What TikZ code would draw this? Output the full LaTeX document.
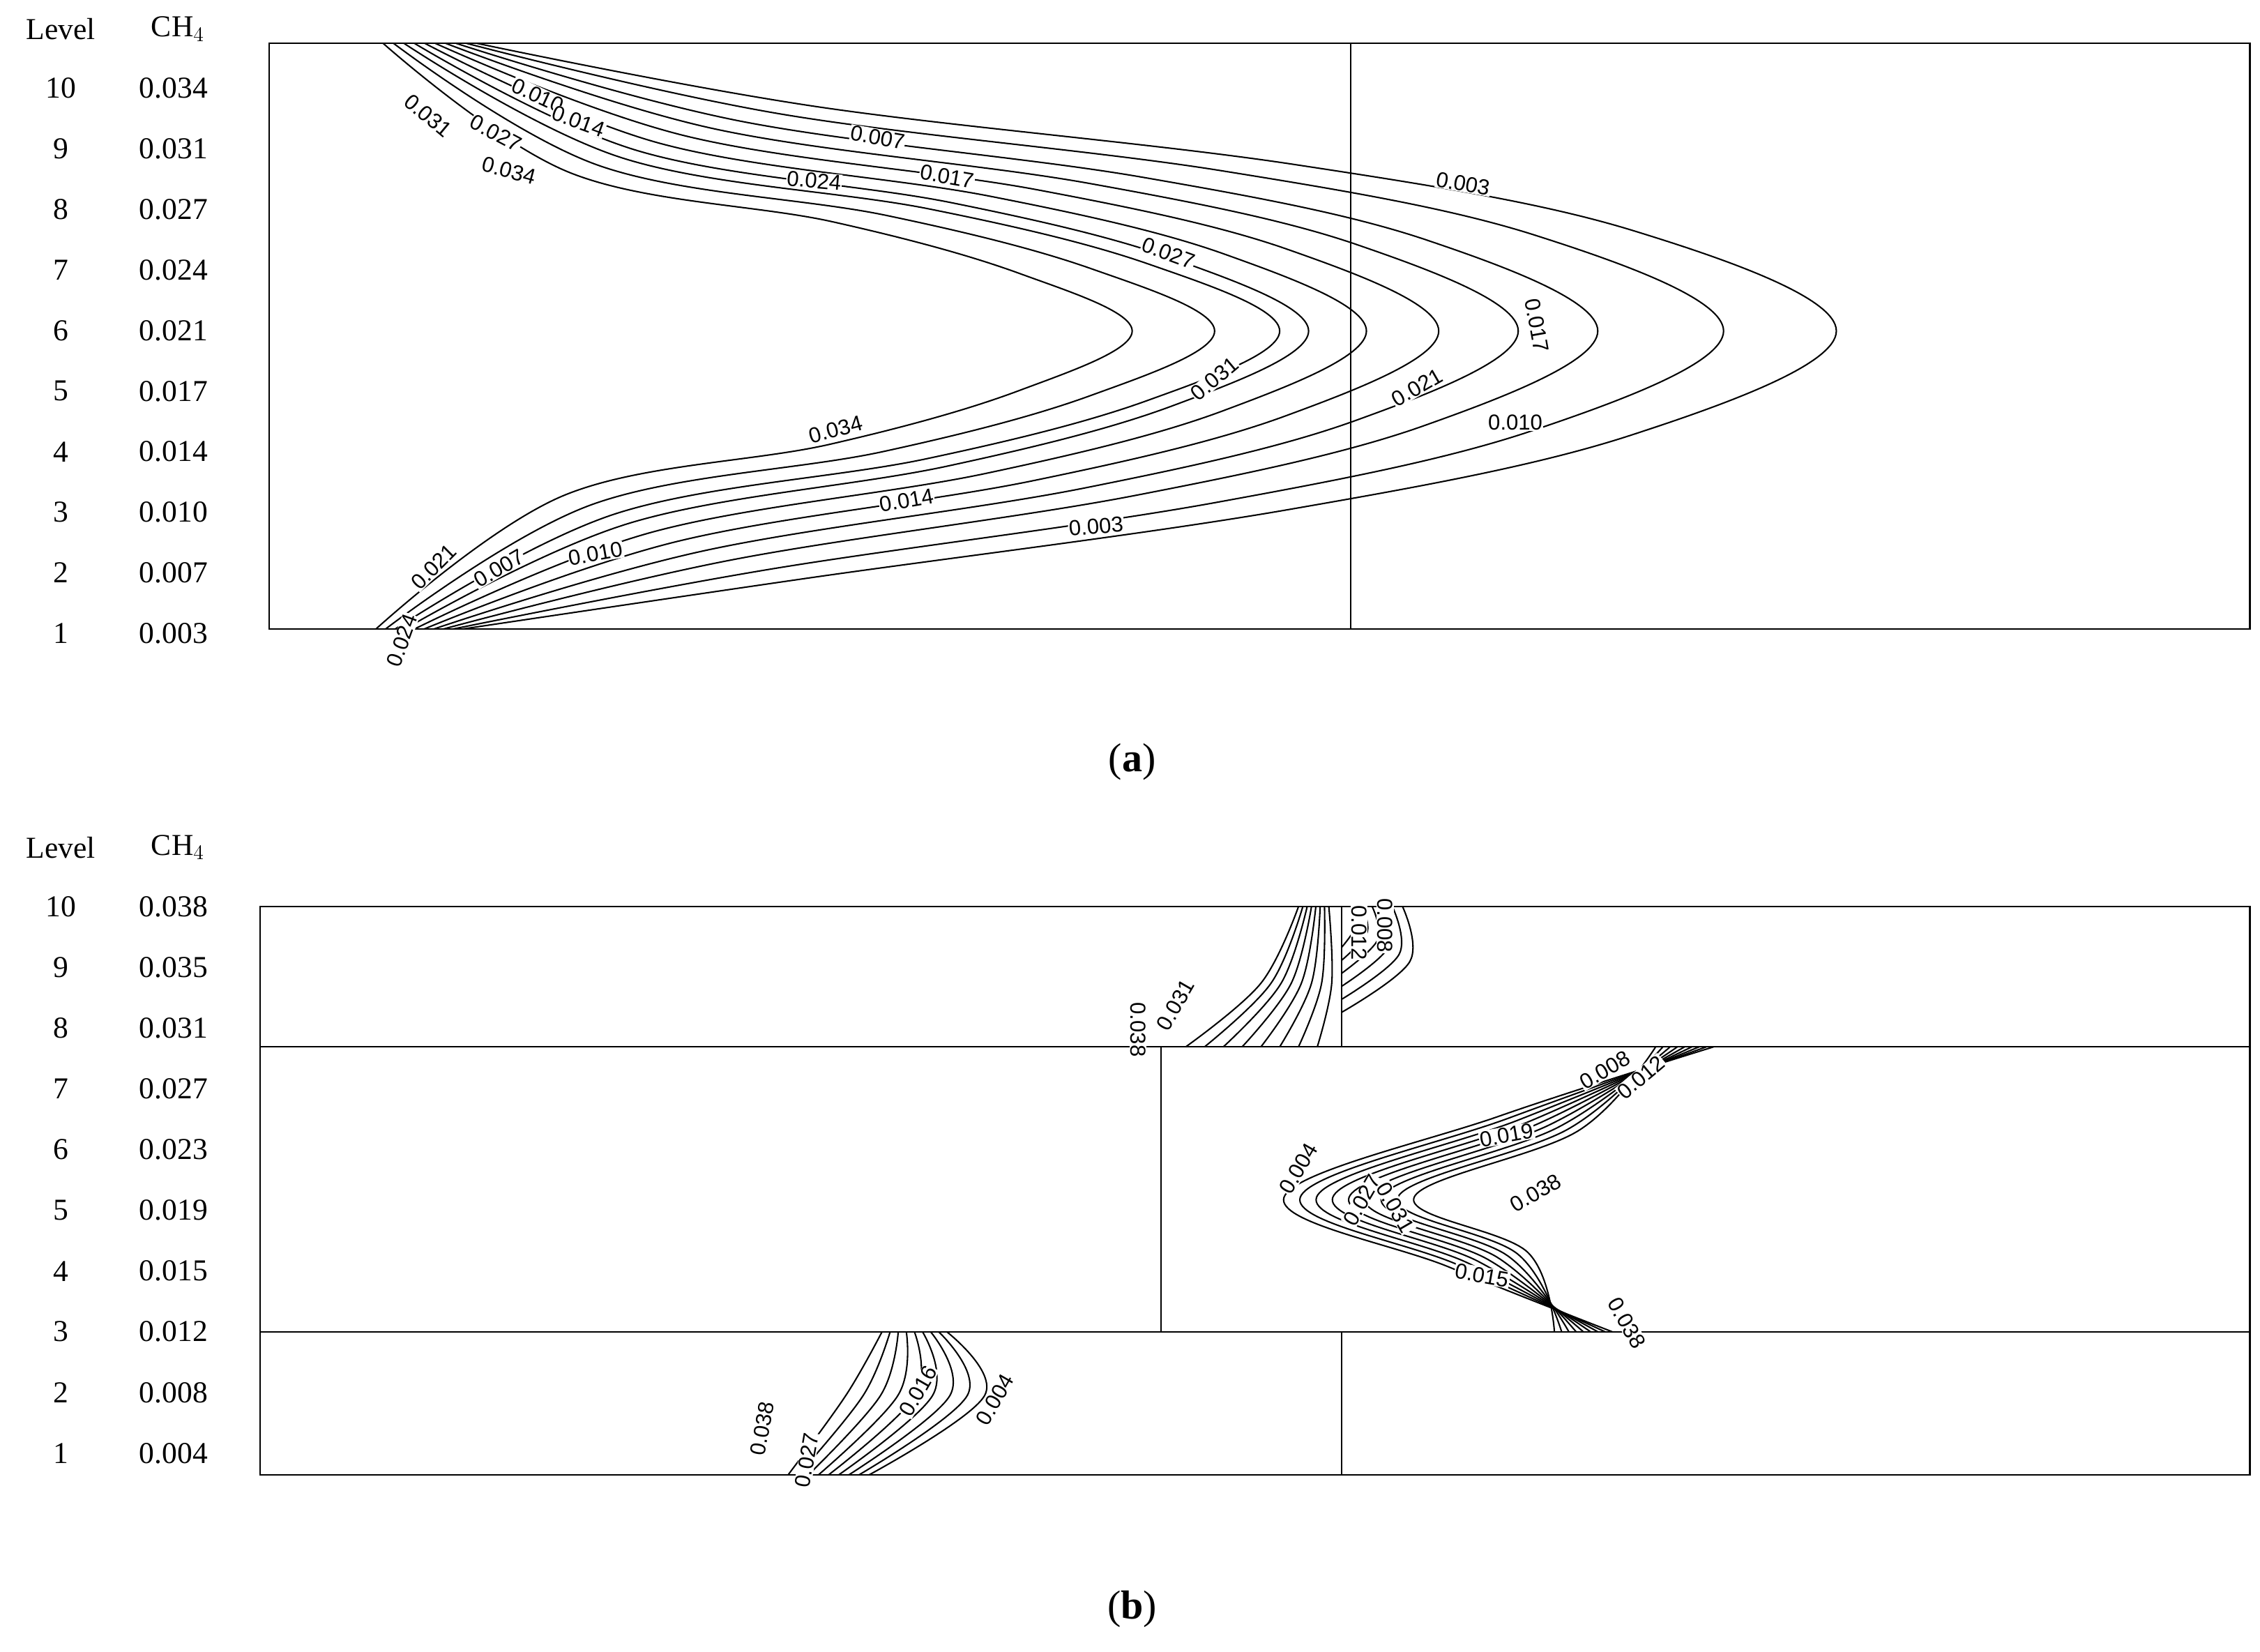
\documentclass[tikz,border=0pt]{standalone}
\usepackage{fontspec}
\setmainfont{Liberation Serif}
\newfontfamily\lblfont{Liberation Sans}
\begin{document}
\begin{tikzpicture}[x=1pt,y=-1pt,
  frame/.style={line width=1.1pt},
  cont/.style={line width=1pt},
  leg/.style={font=\fontsize{21}{21}\selectfont,anchor=center},
  clab/.style={font=\lblfont\fontsize{15}{15}\selectfont,fill=white,inner sep=0.5pt},
  captxt/.style={font=\fontsize{28}{28}\selectfont}]
\useasboundingbox (0,0) rectangle (1563,1142);
% ---------- panel (a)
\node[leg] (la) at (42,20) {Level};
\node[leg] (ca) at (123,20) {CH$_4$};
\foreach \l/\v [count=\i from 0] in {10/0.034,9/0.031,8/0.027,7/0.024,6/0.021,5/0.017,4/0.014,3/0.010,2/0.007,1/0.003}{
  \node[leg] (al\i) at (42,{61+41.9*\i}) {\l};
  \node[leg] (av\i) at (120,{61+41.9*\i}) {\v};
}
\begin{scope}
\clip (186,30) rectangle (1556,435);
\foreach \A [count=\j from 0] in {1270,1192,1105,1050,995,945,905,885,840,783}{
  \pgfmathsetmacro\t{\j/9}
  \pgfmathsetmacro\xt{330-65*\t}
  \pgfmathsetmacro\xb{320-60*\t}
  \draw[cont] plot[smooth,tension=0.6] coordinates {
    (\xb,435)
    ({\xb+0.25*(\A-\xb)},{435-206*(0.17+0.28*\t)})
    ({\xb+0.6*(\A-\xb)},{435-206*(0.40+0.22*\t)})
    ({\xb+0.85*(\A-\xb)},{435-206*(0.65+0.15*\t)})
    (\A,229)
    ({\xt+0.85*(\A-\xt)},{30+199*(0.65+0.15*\t)})
    ({\xt+0.6*(\A-\xt)},{30+199*(0.42+0.20*\t)})
    ({\xt+0.25*(\A-\xt)},{30+199*(0.22+0.23*\t)})
    (\xt,30)};
}
\end{scope}
\draw[frame] (186,30) rectangle (1556,435);
\draw[frame] (934,30) -- (934,435);
\foreach \x/\y/\r/\s in {372/66/-25/0.010, 296/80/-40/0.031, 343/92/-28/0.027, 400/84/-20/0.014,
  352/118/-15/0.034, 607/95/-10/0.007, 563/125/-5/0.024, 655/122/-10/0.017, 1012/127/-10/0.003,
  808/175/-20/0.027, 1063/225/-80/0.017, 840/262/40/0.031, 578/297/15/0.034, 980/268/30/0.021,
  1048/292/0/0.010, 627/346/10/0.014, 758/364/5/0.003, 300/392/45/0.021, 345/393/30/0.007,
  412/383/10/0.010, 278/443/70/0.024}
  \node[clab,rotate=\r] at (\x,\y) {\s};
\node[captxt] (capa) at (783,527) {(\textbf{a})};
% ---------- panel (b)
\node[leg] (lb) at (42,586) {Level};
\node[leg] (cb) at (123,586) {CH$_4$};
\foreach \l/\v [count=\i from 0] in {10/0.038,9/0.035,8/0.031,7/0.027,6/0.023,5/0.019,4/0.015,3/0.012,2/0.008,1/0.004}{
  \node[leg] (bl\i) at (42,{627+42*\i}) {\l};
  \node[leg] (bv\i) at (120,{627+42*\i}) {\v};
}
\foreach \j in {0,...,8}{
  \pgfmathsetmacro\t{\j/8}
  \pgfmathsetmacro\xt{1185-40*\t}
  \pgfmathsetmacro\ax{888+90*\t}
  \pgfmathsetmacro\xb{1115-40*\t}
  \draw[cont] plot[smooth,tension=0.6] coordinates {
    (\xt,724) ({0.5*(\xt+\ax)+30*\t},{772+10*\t}) (\ax,828) ({0.5*(\ax+\xb)+30*\t},{876-10*\t}) (\xb,921)};
}
\foreach \j in {0,...,7}{
  \draw[cont] plot[smooth,tension=0.6] coordinates {
    ({898+3*\j},627) ({872+7*\j},680) ({820+13*\j},724)};
}
\foreach \j in {0,...,5}{
  \draw[cont] plot[smooth,tension=0.6] coordinates {
    ({935+7*\j},627) ({938+7.4*\j},{640+5*\j}) (928,{655+9*\j})};
}
\foreach \j in {0,...,8}{
  \draw[cont] plot[smooth,tension=0.6] coordinates {
    ({610+5.6*\j},921) ({585+12*\j},965) ({545+7*\j},1020)};
}
\draw[frame] (180,627) rectangle (1556,1020);
\draw[frame] (180,724) -- (1556,724);
\draw[frame] (180,921) -- (1556,921);
\draw[frame] (928,627) -- (928,724);
\draw[frame] (803,724) -- (803,921);
\draw[frame] (928,921) -- (928,1020);
\foreach \x/\y/\r/\s in {958/640/-90/0.008, 940/645/-90/0.012, 787/712/-90/0.038, 813/695/60/0.031,
  898/808/60/0.004, 942/830/60/0.027, 965/835/-60/0.031, 1042/785/10/0.019, 1110/740/30/0.008,
  1135/745/40/0.012, 1062/825/30/0.038, 1025/882/-10/0.015, 1125/915/-60/0.038,
  527/988/80/0.038, 558/1010/80/0.027, 635/962/60/0.016, 688/968/60/0.004}
  \node[clab,rotate=\r] at (\x,\y) {\s};
\node[captxt] (capb) at (783,1113) {(\textbf{b})};
\end{tikzpicture}
\end{document}
